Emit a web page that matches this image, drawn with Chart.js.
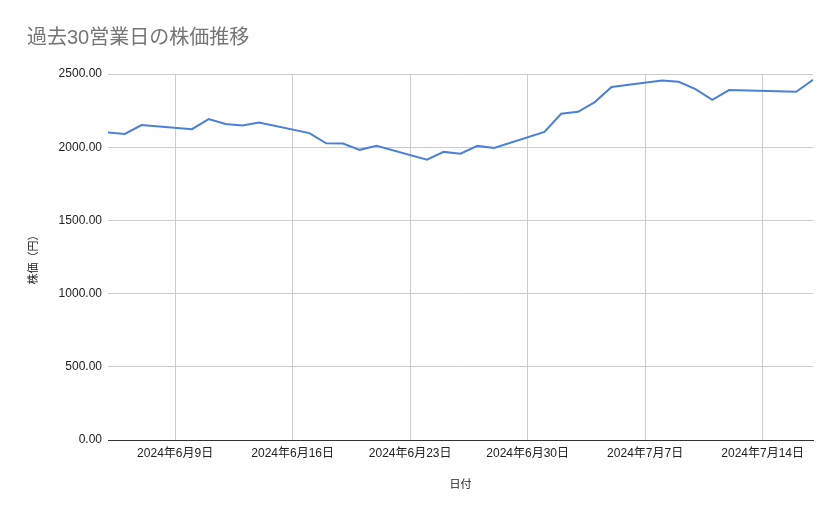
<!DOCTYPE html>
<html>
<head>
<meta charset="utf-8">
<script src="https://cdn.jsdelivr.net/npm/chart.js@4.4.1/dist/chart.umd.min.js"></script>
<style>
  html, body { margin: 0; padding: 0; background: #fff; }
</style>
</head>
<body>
<canvas id="kabuka" width="839" height="519"></canvas>
<script>
// 営業日（7/15は祝日）
const fechas = [
  '2024-06-05', '2024-06-06', '2024-06-07', '2024-06-10', '2024-06-11', '2024-06-12',
  '2024-06-13', '2024-06-14', '2024-06-17', '2024-06-18', '2024-06-19', '2024-06-20',
  '2024-06-21', '2024-06-24', '2024-06-25', '2024-06-26', '2024-06-27', '2024-06-28',
  '2024-07-01', '2024-07-02', '2024-07-03', '2024-07-04', '2024-07-05', '2024-07-08',
  '2024-07-09', '2024-07-10', '2024-07-11', '2024-07-12', '2024-07-16', '2024-07-17'
];
// 株価（円）
const precios = [
  2100, 2091, 2151, 2123, 2192, 2158,
  2148, 2168, 2096, 2027, 2025, 1982,
  2009, 1915, 1968, 1956, 2009, 1995,
  2105, 2228, 2242, 2308, 2411, 2456,
  2447, 2397, 2324, 2390, 2379, 2461
];
// x軸の目盛り（毎週日曜）
const marcasX = ['2024-06-09', '2024-06-16', '2024-06-23', '2024-06-30', '2024-07-07', '2024-07-14'];
const inicioX = '2024-06-05';
const finX = '2024-07-17';
const marcasY = [0, 500, 1000, 1500, 2000, 2500];

// 日付文字列 -> 通算日
function dia(s) {
  const p = s.split('-').map(Number);
  return Date.UTC(p[0], p[1] - 1, p[2]) / 86400000;
}
function etiqueta(n) {
  const d = new Date(n * 86400000);
  return d.getUTCFullYear() + '年' + (d.getUTCMonth() + 1) + '月' + d.getUTCDate() + '日';
}

const fuente = "'Liberation Sans', Arial, 'Noto Sans CJK JP', sans-serif";
const puntos = fechas.map((f, i) => ({ x: dia(f), y: precios[i] }));

new Chart(document.getElementById('kabuka'), {
  type: 'line',
  data: {
    datasets: [{
      label: '株価',
      data: puntos,
      borderColor: '#4a80d8',
      borderWidth: 2,
      pointRadius: 0,
      tension: 0,
      fill: false
    }]
  },
  options: {
    responsive: false,
    animation: false,
    layout: { padding: { left: 27, top: 16, right: 26, bottom: 0 } },
    plugins: {
      legend: { display: false },
      tooltip: { enabled: false },
      title: {
        display: true,
        text: '過去30営業日の株価推移',
        align: 'start',
        color: '#757575',
        font: { family: fuente, size: 20, weight: 'normal' },
        padding: { top: 10, bottom: 24 }
      }
    },
    scales: {
      x: {
        type: 'linear',
        min: dia(inicioX),
        max: dia(finX),
        afterBuildTicks: (s) => { s.ticks = marcasX.map(m => ({ value: dia(m) })); },
        afterFit: (s) => { s.height = 79; },
        ticks: {
          callback: (v) => etiqueta(v),
          color: '#222',
          font: { family: fuente, size: 12 },
          padding: 6,
          maxRotation: 0,
          autoSkip: false
        },
        grid: { color: '#cccccc', drawTicks: false },
        border: { display: true, color: '#333333', width: 1 },
        title: {
          display: true,
          text: '日付',
          color: '#222',
          font: { family: fuente, size: 11 },
          padding: { top: 0, bottom: 27 }
        }
      },
      y: {
        min: 0,
        max: 2500,
        afterBuildTicks: (s) => { s.ticks = marcasY.map(v => ({ value: v })); },
        afterFit: (s) => { s.width = 81; },
        ticks: {
          callback: (v) => v.toFixed(2),
          color: '#222',
          font: { family: fuente, size: 12 },
          padding: 6
        },
        grid: { color: '#cccccc', drawTicks: false },
        border: { display: false },
        title: {
          display: true,
          text: '株価（円）',
          color: '#222',
          font: { family: fuente, size: 11 },
          padding: { top: 0, bottom: 0 }
        }
      }
    }
  }
});
</script>
</body>
</html>
